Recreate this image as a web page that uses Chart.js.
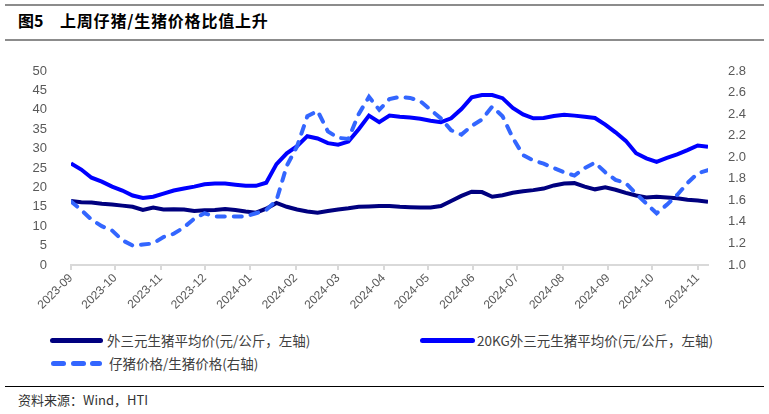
<!DOCTYPE html>
<html>
<head>
<meta charset="utf-8">
<script src="https://cdn.jsdelivr.net/npm/chart.js@4.4.1/dist/chart.umd.min.js"></script>
<style>
  body { margin: 0; background: #fff; width: 769px; height: 414px; position: relative; overflow: hidden; font-family: "Noto Sans CJK SC", sans-serif; }
  .rule { position: absolute; left: 5px; width: 759px; }
  .title { position: absolute; top: 8px; font-size: 16px; font-weight: bold; color: #000; white-space: pre; line-height: 24px; }
  #box { position: absolute; left: 0; top: 0; width: 769px; height: 330px; }
  .leg { position: absolute; font-size: 13.5px; color: #404040; line-height: 20px; white-space: nowrap; }
  .sw { position: absolute; height: 5px; border-radius: 3px; }
  #src { position: absolute; left: 18px; top: 391px; font-size: 13px; color: #333; line-height: 18px; }
</style>
</head>
<body>
<div class="rule" style="top:4px;border-top:2px solid #8c8c8c"></div>
<div class="title" style="left:18px">图5</div>
<div class="title" style="left:60px;letter-spacing:0.8px">上周仔猪/生猪价格比值上升</div>
<div class="rule" style="top:39px;border-top:2px solid #8c8c8c"></div>
<div id="box"><canvas id="priceChart"></canvas></div>

<div class="sw" style="left:50px;top:338px;width:53px;background:#00007f"></div>
<div class="leg" style="left:107px;top:330px">外三元生猪平均价(元/公斤，左轴)</div>
<div class="sw" style="left:420px;top:338px;width:55px;background:#0000ff"></div>
<div class="leg" style="left:477px;top:330px">20KG外三元生猪平均价(元/公斤，左轴)</div>
<div class="sw" style="left:51px;top:361px;width:15px;background:#3366ff"></div>
<div class="sw" style="left:71px;top:361px;width:15px;background:#3366ff"></div>
<div class="sw" style="left:90px;top:361px;width:12px;background:#3366ff"></div>
<div class="leg" style="left:109px;top:353px">仔猪价格/生猪价格(右轴)</div>

<div class="rule" style="top:386px;border-top:1.5px solid #000"></div>
<div id="src">资料来源：Wind，HTI</div>

<script>
const dates = [
  '2023-09-01','2023-09-08','2023-09-15','2023-09-22','2023-09-29',
  '2023-10-06','2023-10-13','2023-10-20','2023-10-27',
  '2023-11-03','2023-11-10','2023-11-17','2023-11-24',
  '2023-12-01','2023-12-08','2023-12-15','2023-12-22','2023-12-29',
  '2024-01-05','2024-01-12','2024-01-19','2024-01-26',
  '2024-02-02','2024-02-09','2024-02-16','2024-02-23',
  '2024-03-01','2024-03-08','2024-03-15','2024-03-22','2024-03-29',
  '2024-04-05','2024-04-12','2024-04-19','2024-04-26',
  '2024-05-03','2024-05-10','2024-05-17','2024-05-24','2024-05-31',
  '2024-06-07','2024-06-14','2024-06-21','2024-06-28',
  '2024-07-05','2024-07-12','2024-07-19','2024-07-26',
  '2024-08-02','2024-08-09','2024-08-16','2024-08-23','2024-08-30',
  '2024-09-06','2024-09-13','2024-09-20','2024-09-27',
  '2024-10-04','2024-10-11','2024-10-18','2024-10-25',
  '2024-11-01','2024-11-08'
];

// 外三元生猪平均价 (元/公斤)
const hogPrice = [
  16.5, 16.2, 16.1, 15.8, 15.6, 15.3, 15.0, 14.2, 14.8, 14.3,
  14.4, 14.3, 13.9, 14.1, 14.2, 14.4, 14.2, 13.8, 13.5, 14.5,
  16.0, 15.0, 14.3, 13.8, 13.5, 13.9, 14.3, 14.6, 15.0, 15.1,
  15.2, 15.2, 15.0, 14.9, 14.8, 14.8, 15.2, 16.5, 17.8, 18.9,
  18.8, 17.6, 18.0, 18.6, 19.0, 19.3, 19.7, 20.5, 21.0, 21.1,
  20.2, 19.5, 20.0, 19.4, 18.6, 17.9, 17.4, 17.6, 17.4, 17.2,
  16.8, 16.6, 16.3
];

// 20KG外三元生猪平均价 (元/公斤)
const pigletPrice = [
  26.2, 24.6, 22.5, 21.5, 20.2, 19.2, 17.9, 17.3, 17.6, 18.4,
  19.2, 19.7, 20.2, 20.8, 21.0, 21.0, 20.7, 20.4, 20.4, 21.2,
  26.0, 28.8, 30.6, 33.2, 32.6, 31.4, 31.0, 31.8, 35.0, 38.5,
  36.8, 38.5, 38.2, 38.0, 37.7, 37.2, 36.8, 37.8, 40.2, 43.2,
  43.8, 43.8, 43.0, 40.5, 38.8, 37.8, 37.9, 38.4, 38.7, 38.5,
  38.2, 37.9, 36.2, 34.2, 32.0, 28.8, 27.5, 26.6, 27.6, 28.5,
  29.6, 30.8, 30.5
];

// 仔猪价格/生猪价格 (右轴)
const priceRatio = [
  1.59, 1.51, 1.42, 1.36, 1.32, 1.23, 1.18, 1.19, 1.20, 1.26,
  1.29, 1.35, 1.43, 1.48, 1.45, 1.45, 1.45, 1.45, 1.48, 1.51,
  1.60, 1.92, 2.10, 2.38, 2.43, 2.24, 2.18, 2.17, 2.40, 2.56,
  2.44, 2.54, 2.56, 2.55, 2.52, 2.44, 2.36, 2.25, 2.21, 2.29,
  2.35, 2.47, 2.38, 2.18, 2.02, 1.97, 1.94, 1.90, 1.86, 1.83,
  1.90, 1.95, 1.86, 1.79, 1.76, 1.66, 1.57, 1.48, 1.56, 1.65,
  1.76, 1.85, 1.88
];

const tickLabels = ['2023-09','2023-10','2023-11','2023-12','2024-01','2024-02','2024-03',
  '2024-04','2024-05','2024-06','2024-07','2024-08','2024-09','2024-10','2024-11'];

const DAY = 86400000;
const t0 = Date.parse(dates[0]);
const dayOf = s => Math.round((Date.parse(s) - t0) / DAY);
const xs = dates.map(dayOf);
const monthTicks = tickLabels.map(m => dayOf(m + '-01'));
const pts = arr => arr.map((v, i) => ({ x: xs[i], y: v }));

const axisFont = { family: '"Liberation Sans", Arial, sans-serif', size: 13 };

new Chart(document.getElementById('priceChart'), {
  type: 'line',
  data: {
    datasets: [
      {
        label: '仔猪价格/生猪价格(右轴)',
        data: pts(priceRatio),
        yAxisID: 'y1',
        borderColor: '#3366ff',
        borderWidth: 4,
        borderDash: [8, 9],
        borderCapStyle: 'round',
        pointRadius: 0,
        tension: 0
      },
      {
        label: '外三元生猪平均价(元/公斤，左轴)',
        data: pts(hogPrice),
        yAxisID: 'y',
        borderColor: '#00007f',
        borderWidth: 4,
        pointRadius: 0,
        tension: 0
      },
      {
        label: '20KG外三元生猪平均价(元/公斤，左轴)',
        data: pts(pigletPrice),
        yAxisID: 'y',
        borderColor: '#0000ff',
        borderWidth: 4,
        pointRadius: 0,
        tension: 0
      }
    ]
  },
  options: {
    responsive: true,
    maintainAspectRatio: false,
    animation: false,
    layout: { padding: { top: 71, left: 0, right: 0, bottom: 0 } },
    plugins: { legend: { display: false }, tooltip: { enabled: false } },
    scales: {
      x: {
        type: 'linear',
        min: 0,
        max: xs[xs.length - 1],
        afterBuildTicks: scale => { scale.ticks = monthTicks.map(v => ({ value: v })); },
        afterFit: scale => { scale.height = 65; },
        grid: { drawOnChartArea: false, drawTicks: true, tickLength: 5, color: '#d9d9d9', lineWidth: 2 },
        border: { display: true, color: '#d9d9d9', width: 2 },
        ticks: {
          autoSkip: false,
          maxRotation: 45,
          minRotation: 45,
          padding: 1,
          color: '#595959',
          font: { family: '"Liberation Sans", Arial, sans-serif', size: 12 },
          callback: (v, i) => tickLabels[i]
        }
      },
      y: {
        position: 'left',
        min: 0,
        max: 50,
        afterFit: scale => { scale.width = 71; },
        grid: { display: false },
        border: { display: false },
        ticks: { stepSize: 5, padding: 16, color: '#595959', font: axisFont }
      },
      y1: {
        position: 'right',
        min: 1.0,
        max: 2.8,
        afterFit: scale => { scale.width = 61; },
        grid: { display: false },
        border: { display: false },
        ticks: { stepSize: 0.2, padding: 12, color: '#595959', font: axisFont, callback: v => v.toFixed(1) }
      }
    }
  }
});
</script>
</body>
</html>
